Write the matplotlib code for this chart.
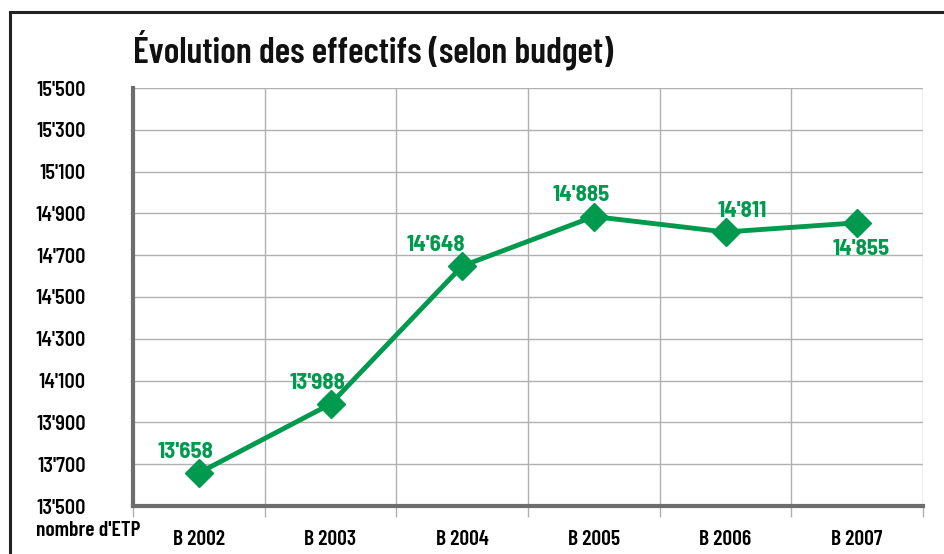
import matplotlib
matplotlib.use("Agg")
import matplotlib.pyplot as plt
from matplotlib.lines import Line2D

FONT = "Barlow Condensed"
FONT2 = "Barlow Semi Condensed"
plt.rcParams['font.family'] = [FONT, 'DejaVu Sans']

categories = ["B 2002", "B 2003", "B 2004", "B 2005", "B 2006", "B 2007"]
values = [13658, 13988, 14648, 14885, 14811, 14855]
value_labels = ["13'658", "13'988", "14'648", "14'885", "14'811", "14'855"]
yticks = [13500, 13700, 13900, 14100, 14300, 14500, 14700, 14900, 15100, 15300, 15500]
ytick_labels = ["13'500", "13'700", "13'900", "14'100", "14'300", "14'500",
                "14'700", "14'900", "15'100", "15'300", "15'500"]
label_below = [False, False, False, False, False, True]
label_dx = [-0.1, -0.1, -0.2, -0.1, 0.13, 0.03]

GREEN = "#009A4E"
W, H = 944, 554
fig = plt.figure(figsize=(W / 100, H / 100), dpi=100)
fig.patch.set_facecolor("white")

# outer frame
fig.add_artist(Line2D([10 / W, 10 / W], [0, 1 - 12 / H], transform=fig.transFigure, color="#222222", lw=2.2))
fig.add_artist(Line2D([10 / W, 1], [1 - 12 / H, 1 - 12 / H], transform=fig.transFigure, color="#222222", lw=2.2))

ax = fig.add_axes([133 / W, 1 - 506 / H, 790 / W, 418 / H])
n = len(categories)
ax.set_xlim(0, n)
ax.set_ylim(13500, 15500)

x = [i + 0.5 for i in range(n)]
ax.plot(x, values, color=GREEN, lw=3.5, marker="D", markersize=14, markeredgecolor=GREEN,
        zorder=5, clip_on=False)

for xi, v, lab, below, dx in zip(x, values, value_labels, label_below, label_dx):
    ax.annotate(lab, (xi + dx, v), xytext=(0, -12 if below else 8), textcoords="offset points",
                ha="center", va="top" if below else "bottom", color=GREEN,
                fontsize=16.5, fontweight="bold", family=[FONT2, 'DejaVu Sans'], zorder=6)

# grid
ax.set_yticks(yticks)
ax.set_yticklabels(ytick_labels)
ax.set_xticks(range(n + 1))
ax.set_xticklabels([])
ax.set_xticks(x, minor=True)
ax.set_xticklabels(categories, minor=True)
ax.grid(True, which="major", color="#b0b0b0", lw=1.0)
ax.set_axisbelow(True)

for s in ["top", "right"]:
    ax.spines[s].set_visible(False)
ax.spines["left"].set_color("#6d6d6d")
ax.spines["left"].set_linewidth(3)
ax.spines["bottom"].set_color("#6d6d6d")
ax.spines["bottom"].set_linewidth(3)

ax.tick_params(axis="y", which="major", length=0, pad=34, labelsize=14.5)
for t in ax.get_yticklabels():
    t.set_fontweight("semibold")
    t.set_family([FONT2, 'DejaVu Sans'])
ax.tick_params(axis="x", which="major", length=8, color="#b0b0b0", width=1, direction="out")
ax.tick_params(axis="x", which="minor", length=0, pad=17, labelsize=15.5)
for t in ax.get_xticklabels(minor=True):
    t.set_fontweight("semibold")

fig.text(36 / W, 1 - 530 / H, "nombre d'ETP", fontsize=15.5, fontweight="semibold", va="center", ha="left")
fig.text(133 / W, 1 - 50 / H, "Évolution des effectifs (selon budget)", fontsize=26,
         fontweight="semibold", va="center", ha="left", color="#111111")

fig.savefig("out.png", dpi=100)
